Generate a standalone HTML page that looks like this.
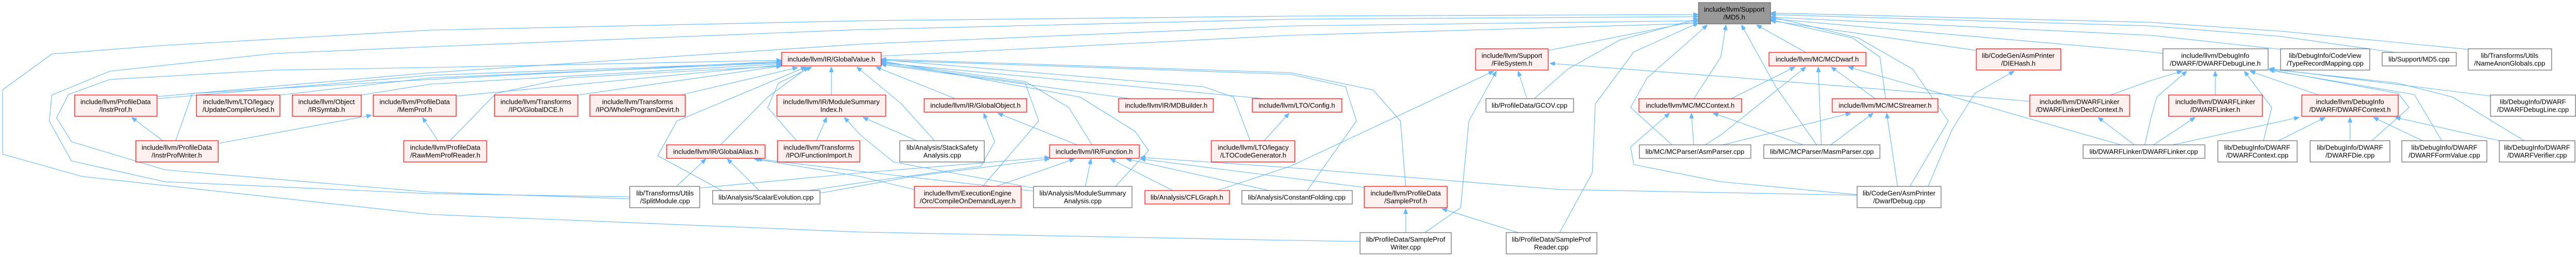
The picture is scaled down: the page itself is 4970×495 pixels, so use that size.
<!DOCTYPE html>
<html><head><meta charset="utf-8"><style>
html,body{margin:0;padding:0;background:#fff;}
svg{display:block;}
text{font-family:"Liberation Sans",sans-serif;font-size:13px;fill:#000;text-anchor:middle;}
.r{fill:#fff0f0;stroke:#ff0000;stroke-width:1.2;}
.g{fill:#ffffff;stroke:#666666;stroke-width:1.2;}
.m{fill:#999999;stroke:#666666;stroke-width:1.2;}
.e{fill:none;stroke:#63b8ff;stroke-width:1.1;marker-end:url(#a);stroke-linejoin:round;}
</style></head><body>
<svg width="4970" height="495" viewBox="0 0 4970 495" xmlns="http://www.w3.org/2000/svg">
<defs><marker id="a" viewBox="0 0 10 8" refX="10" refY="4" markerWidth="10" markerHeight="8" markerUnits="userSpaceOnUse" orient="auto"><path d="M0,0 L10,4 L0,8 z" fill="#63b8ff" stroke="#63b8ff"/></marker></defs>

<!-- edges to MD5 -->
<path class="e" d="M2624,465 L2490,463 L1660,447 L830,413 L159,340 L5,297 L5,173 L100,104 L307,88 L830,58 L1660,40 L2490,31 L3277,28"/>
<path class="e" d="M1215,379 L830,373 L318,350 L138,310 L95,233 L100,183 L212,137 L529,103 L830,90 L1660,57 L2490,37 L3277,32"/>
<path class="e" d="M303,186 L830,140 L1660,85 L2490,50 L3277,40"/>
<path class="e" d="M1700,108 L2490,68 L3277,45"/>
<path class="e" d="M2988,97 L3277,40"/>
<path class="e" d="M2960,190 L3025,133 L3125,77 L3277,36"/>
<path class="e" d="M3009,448 L3072,333 L3078,200 L3152,100 L3277,44"/>
<path class="e" d="M3268,190 L3320,110 L3330,48"/>
<path class="e" d="M3226,279 L3146,207 L3178,150 L3294,48"/>
<path class="e" d="M3505,279 L3426,167 L3360,48"/>
<path class="e" d="M3484,101 L3389,48"/>
<path class="e" d="M3638,190 L3627,110 L3574,73 L3416,38"/>
<path class="e" d="M3685,359 L3759,233 L3690,133 L3585,73 L3416,32"/>
<path class="e" d="M3812,97 L3416,40"/>
<path class="e" d="M4762,95 L4400,60 L4150,43 L3416,25"/>
<path class="e" d="M4621,101 L4400,70 L4150,50 L3416,28"/>
<path class="e" d="M4400,95 L4150,68 L3416,33"/>
<path class="e" d="M4173,103 L4150,100 L3416,36"/>

<!-- edges to GlobalValue -->
<path class="e" d="M1215,383 L830,370 L318,327 L138,273 L109,227 L132,182 L212,153 L529,135 L830,130 L1508,116"/>
<path class="e" d="M339,271 L371,180 L830,153 L1508,118"/>
<path class="e" d="M303,190 L830,145 L1508,120"/>
<path class="e" d="M540,183 L830,150 L1508,121"/>
<path class="e" d="M697,183 L830,162 L1508,123"/>
<path class="e" d="M880,185 L1508,125"/>
<path class="e" d="M1115,183 L1508,127"/>
<path class="e" d="M1317,182 L1539,130"/>
<path class="e" d="M868,271 L957,180 L1095,150 L1508,127"/>
<path class="e" d="M1390,279 L1481,187 L1560,129"/>
<path class="e" d="M1393,367 L1269,300 L1306,233 L1555,129"/>
<path class="e" d="M1537,271 L1481,207 L1502,160 L1566,129"/>
<path class="e" d="M1604,183 L1604,129"/>
<path class="e" d="M1803,271 L1739,200 L1653,129"/>
<path class="e" d="M1843,190 L1690,129"/>
<path class="e" d="M2181,190 L1700,124"/>
<path class="e" d="M2438,190 L1700,121"/>
<path class="e" d="M2107,279 L2062,207 L1978,157 L1700,119"/>
<path class="e" d="M1896,359 L2004,233 L1978,160 L1700,122"/>
<path class="e" d="M2152,359 L2216,290 L2190,253 L2084,187 L1700,117"/>
<path class="e" d="M2522,367 L2617,233 L2596,167 L2490,143 L1700,116"/>
<path class="e" d="M2712,359 L2702,233 L2649,173 L2490,140 L1700,114"/>
<path class="e" d="M2412,271 L2380,187 L2322,167 L1700,115"/>

<!-- misc -->
<path class="e" d="M314,271 L254,226"/>
<path class="e" d="M422,276 L717,222"/>
<path class="e" d="M845,271 L815,226"/>
<path class="e" d="M1575,271 L1595,226"/>
<path class="e" d="M1994,362 L1724,312 L1660,260 L1629,226"/>
<path class="e" d="M1769,271 L1665,226"/>
<path class="e" d="M2078,279 L1925,218"/>
<path class="e" d="M1560,367 L1660,352 L1893,320 L1919,273 L1898,218"/>
<path class="e" d="M1351,362 L1660,333 L2025,303"/>
<path class="e" d="M1582,372 L1760,340 L2025,306"/>
<path class="e" d="M1922,359 L2073,306"/>
<path class="e" d="M2094,359 L2105,306"/>
<path class="e" d="M2263,367 L2142,306"/>
<path class="e" d="M2449,367 L2173,306"/>
<path class="e" d="M2632,361 L2200,306"/>
<path class="e" d="M3583,376 L3010,365 L2490,323 L2200,303"/>
<path class="e" d="M1305,359 L1362,306"/>
<path class="e" d="M1465,367 L1403,306"/>
<path class="e" d="M1764,365 L1660,340 L1455,306"/>
<path class="e" d="M1994,368 L1660,330 L1460,306"/>
<path class="e" d="M2439,271 L2487,218"/>
<path class="e" d="M2348,367 L2490,320 L2882,137"/>
<path class="e" d="M2946,190 L2929,137"/>
<path class="e" d="M2749,448 L2818,400 L2834,233 L2887,137"/>
<path class="e" d="M3916,195 L3320,147 L2990,122"/>
<path class="e" d="M2712,448 L2712,402"/>
<path class="e" d="M2929,448 L2782,402"/>
<path class="e" d="M3268,279 L3263,218"/>
<path class="e" d="M3479,279 L3320,223 L3305,218"/>
<path class="e" d="M3340,190 L3463,129"/>
<path class="e" d="M3290,279 L3320,260 L3484,129"/>
<path class="e" d="M3583,375 L3320,350 L3152,317 L3146,283 L3221,218"/>
<path class="e" d="M3514,279 L3508,129"/>
<path class="e" d="M3618,190 L3533,129"/>
<path class="e" d="M4092,279 L3566,129"/>
<path class="e" d="M3324,279 L3571,218"/>
<path class="e" d="M3532,279 L3614,218"/>
<path class="e" d="M3661,359 L3640,218"/>
<path class="e" d="M3720,359 L3766,250 L3810,180 L3886,137"/>
<path class="e" d="M4118,279 L4048,226"/>
<path class="e" d="M4072,183 L4150,155 L4210,137"/>
<path class="e" d="M4138,279 L4150,227 L4161,187 L4219,137"/>
<path class="e" d="M4155,279 L4235,226"/>
<path class="e" d="M4192,279 L4436,226"/>
<path class="e" d="M4274,183 L4274,137"/>
<path class="e" d="M4473,183 L4341,137"/>
<path class="e" d="M4367,271 L4383,207 L4330,137"/>
<path class="e" d="M4396,271 L4486,226"/>
<path class="e" d="M4534,271 L4534,226"/>
<path class="e" d="M4576,271 L4648,207 L4627,180 L4378,134"/>
<path class="e" d="M4674,271 L4579,226"/>
<path class="e" d="M4711,271 L4658,182 L4378,135"/>
<path class="e" d="M4822,271 L4621,226"/>
<path class="e" d="M4870,271 L4732,187 L4626,160 L4378,133"/>
<path class="e" d="M4806,185 L4378,132"/>

<!-- nodes -->
<rect class="m" x="3277" y="5" width="139" height="41"/><text x="3346" y="22.5">include/llvm/Support</text><text x="3346" y="37.5">/MD5.h</text>

<rect class="r" x="144" y="183" width="159" height="41"/><text x="223" y="200.5">include/llvm/ProfileData</text><text x="223" y="215.5">/InstrProf.h</text>
<rect class="r" x="379" y="183" width="161" height="41"/><text x="460" y="200.5">include/llvm/LTO/legacy</text><text x="460" y="215.5">/UpdateCompilerUsed.h</text>
<rect class="r" x="564" y="183" width="133" height="41"/><text x="630" y="200.5">include/llvm/Object</text><text x="630" y="215.5">/IRSymtab.h</text>
<rect class="r" x="720" y="183" width="160" height="41"/><text x="800" y="200.5">include/llvm/ProfileData</text><text x="800" y="215.5">/MemProf.h</text>
<rect class="r" x="262" y="271" width="159" height="41"/><text x="341" y="288.5">include/llvm/ProfileData</text><text x="341" y="303.5">/InstrProfWriter.h</text>
<rect class="r" x="779" y="271" width="160" height="41"/><text x="859" y="288.5">include/llvm/ProfileData</text><text x="859" y="303.5">/RawMemProfReader.h</text>
<rect class="r" x="954" y="183" width="161" height="41"/><text x="1034" y="200.5">include/llvm/Transforms</text><text x="1034" y="215.5">/IPO/GlobalDCE.h</text>
<rect class="r" x="1138" y="183" width="184" height="41"/><text x="1230" y="200.5">include/llvm/Transforms</text><text x="1230" y="215.5">/IPO/WholeProgramDevirt.h</text>
<rect class="r" x="1508" y="101" width="192" height="26"/><text x="1604" y="118.5">include/llvm/IR/GlobalValue.h</text>
<rect class="r" x="1499" y="183" width="210" height="41"/><text x="1604" y="200.5">include/llvm/IR/ModuleSummary</text><text x="1604" y="215.5">Index.h</text>
<rect class="r" x="1286" y="279" width="190" height="26"/><text x="1381" y="296.5">include/llvm/IR/GlobalAlias.h</text>
<rect class="r" x="1500" y="271" width="159" height="41"/><text x="1580" y="288.5">include/llvm/Transforms</text><text x="1580" y="303.5">/IPO/FunctionImport.h</text>
<rect class="g" x="1215" y="359" width="135" height="41"/><text x="1283" y="376.5">lib/Transforms/Utils</text><text x="1283" y="391.5">/SplitModule.cpp</text>
<rect class="g" x="1375" y="367" width="207" height="26"/><text x="1478" y="384.5">lib/Analysis/ScalarEvolution.cpp</text>
<rect class="r" x="1783" y="190" width="198" height="26"/><text x="1882" y="207.5">include/llvm/IR/GlobalObject.h</text>
<rect class="g" x="1736" y="271" width="163" height="41"/><text x="1818" y="288.5">lib/Analysis/StackSafety</text><text x="1818" y="303.5">Analysis.cpp</text>
<rect class="r" x="2025" y="279" width="173" height="26"/><text x="2111" y="296.5">include/llvm/IR/Function.h</text>
<rect class="r" x="2158" y="190" width="183" height="26"/><text x="2250" y="207.5">include/llvm/IR/MDBuilder.h</text>
<rect class="r" x="2416" y="190" width="173" height="26"/><text x="2502" y="207.5">include/llvm/LTO/Config.h</text>
<rect class="r" x="2337" y="271" width="161" height="41"/><text x="2418" y="288.5">include/llvm/LTO/legacy</text><text x="2418" y="303.5">/LTOCodeGenerator.h</text>
<rect class="r" x="1764" y="359" width="206" height="41"/><text x="1867" y="376.5">include/llvm/ExecutionEngine</text><text x="1867" y="391.5">/Orc/CompileOnDemandLayer.h</text>
<rect class="g" x="1994" y="359" width="190" height="41"/><text x="2089" y="376.5">lib/Analysis/ModuleSummary</text><text x="2089" y="391.5">Analysis.cpp</text>
<rect class="r" x="2209" y="367" width="163" height="26"/><text x="2290" y="384.5">lib/Analysis/CFLGraph.h</text>
<rect class="g" x="2396" y="367" width="213" height="26"/><text x="2502" y="384.5">lib/Analysis/ConstantFolding.cpp</text>
<rect class="r" x="2847" y="94" width="140" height="41"/><text x="2917" y="111.5">include/llvm/Support</text><text x="2917" y="126.5">/FileSystem.h</text>
<rect class="g" x="2867" y="190" width="169" height="26"/><text x="2951" y="207.5">lib/ProfileData/GCOV.cpp</text>
<rect class="r" x="3162" y="190" width="198" height="26"/><text x="3261" y="207.5">include/llvm/MC/MCContext.h</text>
<rect class="g" x="3163" y="279" width="215" height="26"/><text x="3270" y="296.5">lib/MC/MCParser/AsmParser.cpp</text>
<rect class="r" x="2632" y="359" width="160" height="41"/><text x="2712" y="376.5">include/llvm/ProfileData</text><text x="2712" y="391.5">/SampleProf.h</text>
<rect class="g" x="2624" y="448" width="176" height="41"/><text x="2712" y="465.5">lib/ProfileData/SampleProf</text><text x="2712" y="480.5">Writer.cpp</text>
<rect class="g" x="2906" y="448" width="175" height="41"/><text x="2993" y="465.5">lib/ProfileData/SampleProf</text><text x="2993" y="480.5">Reader.cpp</text>
<rect class="r" x="3413" y="101" width="187" height="26"/><text x="3506" y="118.5">include/llvm/MC/MCDwarf.h</text>
<rect class="r" x="3813" y="94" width="163" height="41"/><text x="3894" y="111.5">lib/CodeGen/AsmPrinter</text><text x="3894" y="126.5">/DIEHash.h</text>
<rect class="r" x="3535" y="190" width="204" height="26"/><text x="3637" y="207.5">include/llvm/MC/MCStreamer.h</text>
<rect class="r" x="3916" y="183" width="193" height="41"/><text x="4012" y="200.5">include/llvm/DWARFLinker</text><text x="4012" y="215.5">/DWARFLinkerDeclContext.h</text>
<rect class="g" x="3403" y="279" width="224" height="26"/><text x="3515" y="296.5">lib/MC/MCParser/MasmParser.cpp</text>
<rect class="g" x="4019" y="279" width="235" height="26"/><text x="4136" y="296.5">lib/DWARFLinker/DWARFLinker.cpp</text>
<rect class="g" x="3583" y="359" width="162" height="41"/><text x="3664" y="376.5">lib/CodeGen/AsmPrinter</text><text x="3664" y="391.5">/DwarfDebug.cpp</text>
<rect class="g" x="4173" y="94" width="203" height="41"/><text x="4274" y="111.5">include/llvm/DebugInfo</text><text x="4274" y="126.5">/DWARF/DWARFDebugLine.h</text>
<rect class="g" x="4400" y="94" width="172" height="41"/><text x="4486" y="111.5">lib/DebugInfo/CodeView</text><text x="4486" y="126.5">/TypeRecordMapping.cpp</text>
<rect class="g" x="4596" y="101" width="143" height="26"/><text x="4667" y="118.5">lib/Support/MD5.cpp</text>
<rect class="g" x="4762" y="94" width="161" height="41"/><text x="4842" y="111.5">lib/Transforms/Utils</text><text x="4842" y="126.5">/NameAnonGlobals.cpp</text>
<rect class="r" x="4184" y="183" width="181" height="41"/><text x="4274" y="200.5">include/llvm/DWARFLinker</text><text x="4274" y="215.5">/DWARFLinker.h</text>
<rect class="r" x="4441" y="183" width="186" height="41"/><text x="4534" y="200.5">include/llvm/DebugInfo</text><text x="4534" y="215.5">/DWARF/DWARFContext.h</text>
<rect class="g" x="4805" y="183" width="164" height="41"/><text x="4887" y="200.5">lib/DebugInfo/DWARF</text><text x="4887" y="215.5">/DWARFDebugLine.cpp</text>
<rect class="g" x="4279" y="271" width="153" height="41"/><text x="4355" y="288.5">lib/DebugInfo/DWARF</text><text x="4355" y="303.5">/DWARFContext.cpp</text>
<rect class="g" x="4457" y="271" width="154" height="41"/><text x="4534" y="288.5">lib/DebugInfo/DWARF</text><text x="4534" y="303.5">/DWARFDie.cpp</text>
<rect class="g" x="4634" y="271" width="164" height="41"/><text x="4716" y="288.5">lib/DebugInfo/DWARF</text><text x="4716" y="303.5">/DWARFFormValue.cpp</text>
<rect class="g" x="4822" y="271" width="146" height="41"/><text x="4895" y="288.5">lib/DebugInfo/DWARF</text><text x="4895" y="303.5">/DWARFVerifier.cpp</text>
</svg>
</body></html>
